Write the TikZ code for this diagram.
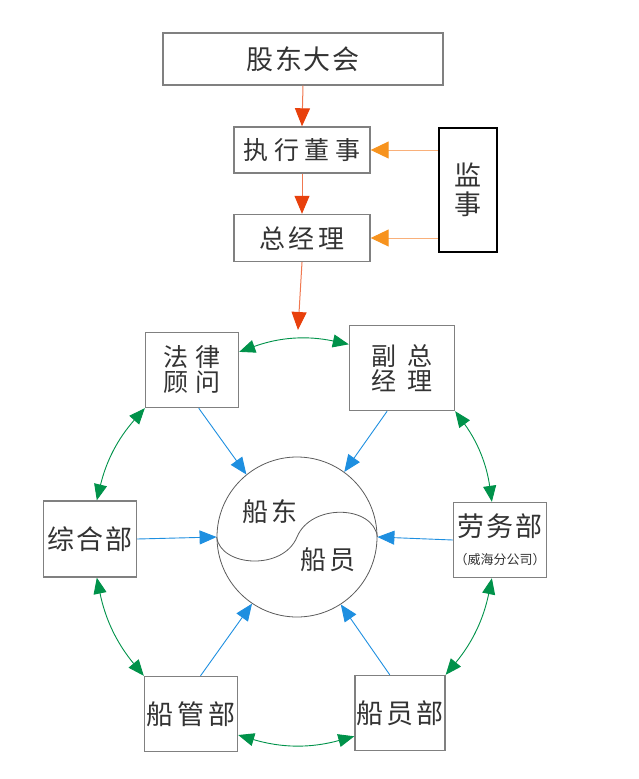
\documentclass[tikz,border=0pt]{standalone}
\usepackage{fontspec}
\newfontfamily\cjk{Noto Sans CJK SC}
\usetikzlibrary{arrows.meta}
\usetikzlibrary{calc}

\definecolor{boxgray}{RGB}{128,128,128}
\definecolor{txtgray}{RGB}{51,51,51}
\definecolor{redline}{RGB}{240,120,80}
\definecolor{redhead}{RGB}{232,64,12}
\definecolor{orgline}{RGB}{249,176,122}
\definecolor{orghead}{RGB}{247,147,30}
\definecolor{grn}{RGB}{0,146,74}
\definecolor{blu}{RGB}{30,143,224}

\tikzset{
  box/.style={draw=boxgray,line width=1.4pt,text=txtgray,inner sep=0pt,align=center,
    font=\cjk\fontsize{27}{29}\selectfont},
  redarrow/.style={draw=redline,line width=1pt,-{Triangle[length=18pt,width=15pt,color=redhead]}},
  orgarrow/.style={draw=orgline,line width=1pt,-{Triangle[length=18pt,width=17pt,color=orghead]}},
  grnarrow/.style={draw=grn,line width=0.9pt,{Triangle[length=16pt,width=13pt]}-{Triangle[length=16pt,width=13pt]}},
  bluarrow/.style={draw=blu,line width=0.9pt,-{Triangle[length=17pt,width=14pt]}},
}

\begin{document}
\begin{tikzpicture}[x=1pt,y=-1pt]
\useasboundingbox (0,0) rectangle (638,779);
% top of the chart
\node[box,minimum width=280pt,minimum height=52pt] (gd) at (303,59) {{\addfontfeatures{LetterSpace=7}股东大会}};
\node[box,minimum width=136pt,minimum height=46pt,font=\cjk\fontsize{25}{27}\selectfont] (zs) at (302,150) {{\addfontfeatures{LetterSpace=22}执行董事}};
\node[box,minimum width=136pt,minimum height=47pt,font=\cjk\fontsize{26}{28}\selectfont] (zj) at (302,238) {{\addfontfeatures{LetterSpace=15}总经理}};
\node[box,draw=black,line width=2.8pt,minimum width=58pt,minimum height=124pt,font=\cjk\fontsize{27}{29}\selectfont] (js) at (468,190) {监\\事};
\coordinate (hub) at (298,330);
\draw[redarrow] (gd.south) -- (zs.north);
\draw[redarrow] (zs.south) -- (zj.north);
\draw[redarrow] (zj.south) -- (hub);
\draw[orgarrow] (js.west |- zs.east) -- (zs.east);
\draw[orgarrow] (js.west |- zj.east) -- (zj.east);
% ring of departments
\node[box,minimum width=93pt,minimum height=75pt,font=\cjk\fontsize{25}{25}\selectfont] (fa) at (192,370) {{\addfontfeatures{LetterSpace=26}法律}\\{\addfontfeatures{LetterSpace=26}顾问}};
\node[box,minimum width=105pt,minimum height=85pt,font=\cjk\fontsize{25}{25}\selectfont] (fz) at (402,368) {{\addfontfeatures{LetterSpace=44}副总}\\{\addfontfeatures{LetterSpace=44}经理}};
\node[box,minimum width=93pt,minimum height=76pt] (zh) at (90,539) {{\addfontfeatures{LetterSpace=8}综合部}};
\node[box,minimum width=93pt,minimum height=75pt] (lw) at (500,540) {{\addfontfeatures{LetterSpace=8}劳务部}\\[-1pt]{\fontsize{13}{15}\selectfont（威海分公司）}};
\node[box,minimum width=93pt,minimum height=75pt] (cg) at (191,714) {{\addfontfeatures{LetterSpace=14}船管部}};
\node[box,minimum width=90pt,minimum height=75pt] (cy) at (400,713) {{\addfontfeatures{LetterSpace=12}船员部}};
% owner and crew
\node[draw=txtgray!80,line width=0.8pt,circle,minimum size=160pt,inner sep=0pt] (yy) at (297,537) {};
\draw[txtgray!80,line width=0.8pt] (yy.180) .. controls +(4,30) and +(-14,34) .. (yy.center)
  .. controls +(14,-34) and +(-4,-32) .. (yy.0);
\node[text=txtgray,font=\cjk\fontsize{26}{28}\selectfont] (cd) at (270,512) {{\addfontfeatures{LetterSpace=8}船东}};
\node[text=txtgray,font=\cjk\fontsize{26}{28}\selectfont] (cs) at (328,560) {{\addfontfeatures{LetterSpace=8}船员}};
\draw[grnarrow] (fa.21) to[bend left=16] (fz.156);
\draw[grnarrow] (fz.south east) to[bend left=14] (lw.102);
\draw[grnarrow] (lw.258) to[bend left=14] (cy.north east);
\draw[grnarrow] (cy.207) to[bend left=16] (cg.336);
\draw[grnarrow] (cg.north west) to[bend left=14] (zh.280);
\draw[grnarrow] (zh.80) to[bend left=14] (fa.south west);
\draw[bluarrow] (fa.-80) -- (yy.129);
\draw[bluarrow] (fz.-109) -- (yy.54);
\draw[bluarrow] (zh.east) -- (yy.180);
\draw[bluarrow] (lw.west) -- (yy.0);
\draw[bluarrow] (cg.76) -- (yy.236);
\draw[bluarrow] (cy.105) -- (yy.303);
\end{tikzpicture}
\end{document}
